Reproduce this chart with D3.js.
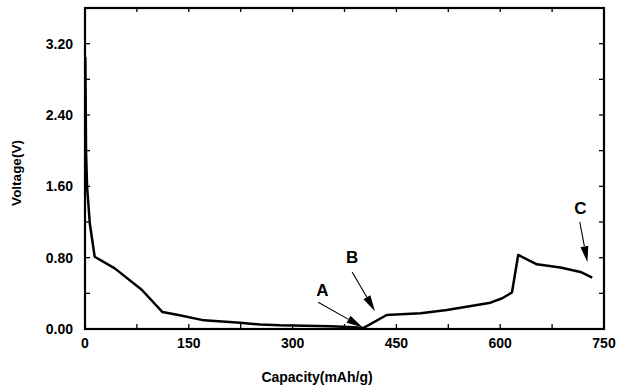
<!DOCTYPE html>
<html>
<head>
<script src="https://cdn.jsdelivr.net/npm/d3@7"></script>
<style>
  body { margin: 0; background: #fff; }
  text { font-family: "Liberation Sans", Arial, sans-serif; font-weight: bold; fill: #000; }
</style>
</head>
<body>
<script>
const W = 618, H = 391
// curve
const capacity = [0.5, 1.5, 3, 7, 14, 43, 82, 112, 135, 172, 224, 253, 282, 354, 390, 402, 436, 485, 523, 586, 603, 617, 626, 653, 687, 716, 733]
const voltage = [3.05, 2.0, 1.6, 1.18, 0.81, 0.68, 0.44, 0.19, 0.157, 0.097, 0.071, 0.05, 0.041, 0.032, 0.02, 0.01, 0.157, 0.176, 0.213, 0.295, 0.345, 0.41, 0.83, 0.726, 0.69, 0.64, 0.576]
const xTicks = [0, 150, 300, 450, 600, 750]
const yTicks = [0, 0.8, 1.6, 2.4, 3.2]
// annotation labels and arrows (data units)
const marks = ["A", "B", "C"]
const markLabelAt = [[343, 0.44], [386, 0.81], [716, 1.36]]
const arrowFrom = [[337, 0.30], [386, 0.64], [715, 1.20]]
const arrowTo = [[401, 0.02], [419, 0.20], [726, 0.75]]

const m = { left: 85, right: 604, top: 8, bottom: 329 }
const x = d3.scaleLinear().domain([0, 750]).range([m.left, m.right])
const y = d3.scaleLinear().domain([0, 3.6]).range([m.bottom, m.top])

const svg = d3.select("body").append("svg").attr("width", W).attr("height", H)

// frame with mirrored inward ticks
const g = svg.append("g")
const xt = d3.range(0, 751, 75), yt = d3.range(0, 3.61, 0.4)
g.selectAll(".xb").data(xt).enter().append("line")
  .attr("x1", d => x(d)).attr("x2", d => x(d)).attr("y1", m.bottom).attr("y2", m.bottom - 5)
  .attr("stroke", "#000").attr("stroke-width", 1.3)
g.selectAll(".xtp").data(xt).enter().append("line")
  .attr("x1", d => x(d)).attr("x2", d => x(d)).attr("y1", m.top).attr("y2", m.top + 4)
  .attr("stroke", "#000").attr("stroke-width", 1.3)
g.selectAll(".yl").data(yt).enter().append("line")
  .attr("x1", m.left).attr("x2", m.left + 5).attr("y1", d => y(d)).attr("y2", d => y(d))
  .attr("stroke", "#000").attr("stroke-width", 1.3)
g.selectAll(".yr").data(yt).enter().append("line")
  .attr("x1", m.right).attr("x2", m.right - 5).attr("y1", d => y(d)).attr("y2", d => y(d))
  .attr("stroke", "#000").attr("stroke-width", 1.3)
g.append("rect").attr("x", m.left).attr("y", m.top)
  .attr("width", m.right - m.left).attr("height", m.bottom - m.top)
  .attr("fill", "none").attr("stroke", "#000").attr("stroke-width", 2.2)

// tick labels
svg.selectAll(".xl").data(xTicks).enter().append("text")
  .attr("x", d => x(d)).attr("y", 348).attr("text-anchor", "middle")
  .attr("font-size", 14).text(d => d)
svg.selectAll(".ylab").data(yTicks).enter().append("text")
  .attr("x", 73).attr("y", d => y(d) + 5).attr("text-anchor", "end")
  .attr("font-size", 14).text(d => d.toFixed(2))

svg.append("text").attr("x", 317).attr("y", 382).attr("text-anchor", "middle")
  .attr("font-size", 14).text("Capacity(mAh/g)")
svg.append("text").attr("transform", "translate(21,173) rotate(-90)")
  .attr("text-anchor", "middle").attr("font-size", 13.5).text("Voltage(V)")

// curve
const pts = capacity.map((c, i) => [c, voltage[i]])
svg.append("path").datum(pts)
  .attr("d", d3.line().x(d => x(d[0])).y(d => y(d[1])))
  .attr("fill", "none").attr("stroke", "#000").attr("stroke-width", 2.5)
  .attr("stroke-linejoin", "round")

// arrows
marks.forEach((lab, i) => {
  const x1 = x(arrowFrom[i][0]), y1 = y(arrowFrom[i][1])
  const x2 = x(arrowTo[i][0]), y2 = y(arrowTo[i][1])
  const dx = x2 - x1, dy = y2 - y1, len = Math.hypot(dx, dy)
  const ux = dx / len, uy = dy / len
  const hl = 16, hw = 4
  const bx = x2 - ux * hl, by = y2 - uy * hl
  svg.append("line").attr("x1", x1).attr("y1", y1).attr("x2", bx).attr("y2", by)
    .attr("stroke", "#000").attr("stroke-width", 1.1)
  svg.append("polygon")
    .attr("points", [[x2, y2], [bx - uy * hw, by + ux * hw], [bx + uy * hw, by - ux * hw]].map(p => p.join(",")).join(" "))
    .attr("fill", "#000")
  svg.append("text").attr("x", x(markLabelAt[i][0])).attr("y", y(markLabelAt[i][1]) + 6)
    .attr("text-anchor", "middle").attr("font-size", 17).text(lab)
})
</script>
</body>
</html>
